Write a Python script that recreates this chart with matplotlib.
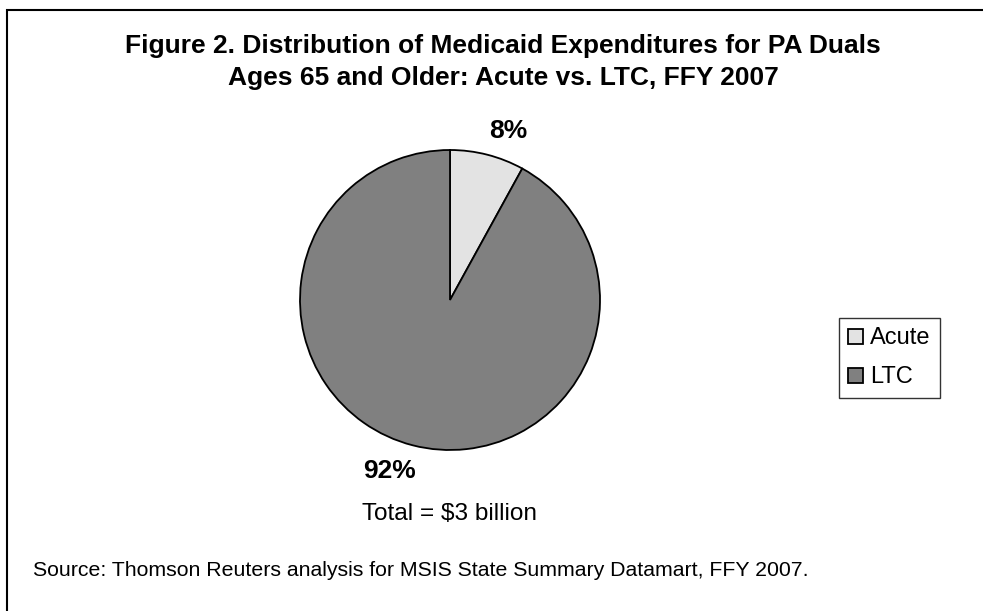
import matplotlib.pyplot as plt
from matplotlib.patches import Rectangle

# data
categories = ["Acute", "LTC"]
shares = [8, 92]
colors = ["#E3E3E3", "#808080"]
title = "Figure 2. Distribution of Medicaid Expenditures for PA Duals\nAges 65 and Older: Acute vs. LTC, FFY 2007"
total_note = "Total = $3 billion"
source_note = "Source: Thomson Reuters analysis for MSIS State Summary Datamart, FFY 2007."

plt.rcParams['font.family'] = ['Liberation Sans', 'DejaVu Sans']

W, H = 983, 611
fig = plt.figure(figsize=(W / 100, H / 100), dpi=100)

def px(x, y):
    # pixel coords (from top-left) -> figure fraction
    return x / W, 1 - y / H

# outer frame (runs off the right and bottom edges)
fig.patches.append(Rectangle(px(7, 700), 1200 / W, 690 / H, transform=fig.transFigure,
                             fill=False, edgecolor="black", linewidth=1.5))

# pie: centre (450, 300), radius 150
ax = fig.add_axes([300 / W, 1 - 450 / H, 300 / W, 300 / H])
wedges, _ = ax.pie(shares, colors=colors, startangle=90, counterclock=False,
                   wedgeprops=dict(edgecolor="black", linewidth=1.3))
ax.set_xlim(-1, 1)
ax.set_ylim(-1, 1)
ax.set_aspect("equal")
ax.axis("off")

# title
fig.text(*px(503, 62), title, ha="center", va="center", fontsize=19,
         fontweight="bold", linespacing=1.42)

# percentage labels
fig.text(*px(508, 131), f"{shares[0]}%", ha="center", va="center",
         fontsize=19, fontweight="bold")
fig.text(*px(389, 471), f"{shares[1]}%", ha="center", va="center",
         fontsize=19, fontweight="bold")

fig.text(*px(449, 514), total_note, ha="center", va="center", fontsize=17.6)
fig.text(*px(33, 571), source_note, ha="left", va="center", fontsize=15.3)

# legend
leg = fig.legend(wedges, categories, loc="upper left", bbox_to_anchor=px(839, 318),
                 fontsize=17, frameon=True, fancybox=False, edgecolor="black",
                 handlelength=0.6, handleheight=0.6, handletextpad=0.3,
                 labelspacing=0.72, borderpad=0.4, borderaxespad=0)
leg.get_frame().set_linewidth(1.0)

fig.savefig("out.png", dpi=100)
